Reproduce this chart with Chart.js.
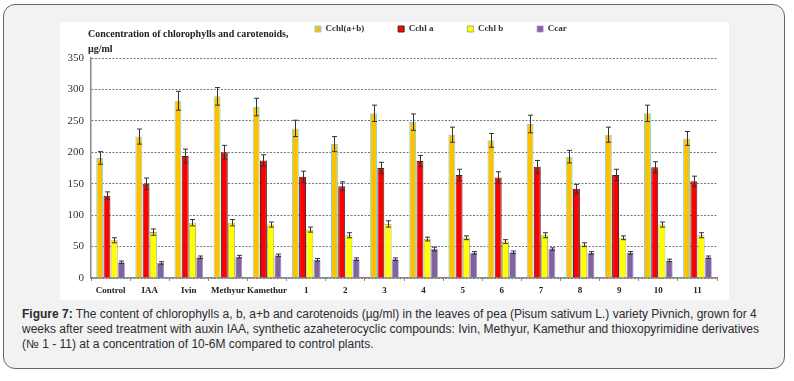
<!DOCTYPE html>
<html>
<head>
<meta charset="utf-8">
<script src="https://cdn.jsdelivr.net/npm/chart.js@4/dist/chart.umd.min.js"></script>
<style>
  html, body { margin:0; padding:0; background:#ffffff; }
  body { width:794px; height:381px; position:relative; overflow:hidden; }
  .box { position:absolute; left:3px; top:4px; width:780px; height:363px; border:1.5px solid #666; border-radius:12px; background:#f2f2f2; }
  .panel { position:absolute; left:60px; top:22px; width:669px; height:278px; background:#fff; }
  .panel canvas { position:absolute; left:0; top:0; }
  .ctitle { position:absolute; left:88px; top:26px; font:bold 10px "Liberation Serif","DejaVu Serif",serif; color:#222; line-height:15px; }
  .caption { position:absolute; left:22px; top:307px; width:750px; font:12px "Liberation Sans",Arial,sans-serif; color:#2b2b33; line-height:15px; }
</style>
</head>
<body>
<div class="box"></div>
<div class="panel"><canvas id="c" width="669" height="278"></canvas></div>
<div class="ctitle">Concentration of chlorophylls and carotenoids,<br>µg/ml</div>
<div class="caption"><b>Figure 7:</b> The content of chlorophylls a, b, a+b and carotenoids (µg/ml) in the leaves of pea (Pisum sativum L.) variety Pivnich, grown for 4 weeks after seed treatment with auxin IAA, synthetic azaheterocyclic compounds: Ivin, Methyur, Kamethur and thioxopyrimidine derivatives (№ 1 - 11) at a concentration of 10-6M compared to control plants.</div>
<script>
const categories = ["Control","IAA","Ivin","Methyur","Kamethur","1","2","3","4","5","6","7","8","9","10","11"];
const chlAB = [191,225,282,289,272,238,213,262,248,228,219,245,193,228,262,222];
const chlA  = [131,150,194,200,187,161,146,175,186,164,160,177,142,164,176,154];
const chlB  = [60,73,88,88,85,77,68,86,62,64,58,68,53,64,85,68];
const car   = [25,24,33,34,36,29,30,30,46,40,41,46,40,40,28,33];
const errAB = [10,12,15,14,14,13,12,13,13,12,11,14,10,12,13,11];
const errA  = [6,9,11,11,9,9,7,9,9,9,9,10,7,9,9,8];
const errB  = [4,5,5,5,4,4,4,5,3,3,3,4,3,3,4,4];
const errCar= [2,2,2,2,2,2,2,2,3,2,2,2,2,2,2,2];
const seriesNames = ["Cchl(a+b)","Cchl a","Cchl b","Ccar"];
const yTicks = [0,50,100,150,200,250,300,350];

const errorBars = {
  id:'errorBars',
  afterDatasetsDraw(chart){
    const ctx = chart.ctx, y = chart.scales.y;
    chart.data.datasets.forEach((ds,di)=>{
      const meta = chart.getDatasetMeta(di);
      meta.data.forEach((el,i)=>{
        const v = ds.data[i], e = ds.errors[i];
        const yt = y.getPixelForValue(v+e), yb = y.getPixelForValue(v-e);
        const x = Math.round(el.x)+0.5;
        ctx.save();
        ctx.strokeStyle = '#333'; ctx.lineWidth = 1;
        ctx.beginPath();
        ctx.moveTo(x, yt); ctx.lineTo(x, yb);
        ctx.moveTo(x-2.5, yt); ctx.lineTo(x+2.5, yt);
        ctx.moveTo(x-2.5, yb); ctx.lineTo(x+2.5, yb);
        ctx.stroke();
        ctx.restore();
      });
    });
  }
};

const legendShift = {
  id:'legendShift',
  afterLayout(chart){
    const lg = chart.legend;
    const pad = lg.options.labels.padding;
    const targetX = 255, targetY = 7;
    const dx = targetX - (lg.left + pad);
    const dy = targetY - (lg.top + pad + 4.5);
    lg.left += dx; lg.right += dx;
    lg.top += dy;
  }
};

new Chart(document.getElementById('c'), {
  type:'bar',
  data:{
    labels:categories,
    datasets:[
      {label:seriesNames[0], data:chlAB, errors:errAB, backgroundColor:'#FFC000', borderColor:'#7DD4E6', borderWidth:1},
      {label:seriesNames[1], data:chlA, errors:errA, backgroundColor:'#FF0000', borderColor:'#3a2a2a', borderWidth:1},
      {label:seriesNames[2], data:chlB, errors:errB, backgroundColor:'#FFFF00', borderColor:'#9a9a60', borderWidth:0.8},
      {label:seriesNames[3], data:car, errors:errCar, backgroundColor:'#8064A2', borderColor:'#a48fc0', borderWidth:0.8}
    ]
  },
  options:{
    responsive:false,
    animation:false,
    layout:{padding:{left:0,right:12,top:0,bottom:0}},
    datasets:{bar:{categoryPercentage:0.74, barPercentage:0.96}},
    plugins:{
      title:{display:false},
      tooltip:{enabled:false},
      legend:{
        display:true, position:'top', align:'start', maxHeight:36,
        labels:{boxWidth:6, boxHeight:6, padding:34, color:'#333',
          font:{family:'"Liberation Serif","DejaVu Serif",serif', size:9, weight:'bold'}}
      }
    },
    scales:{
      x:{
        offset:true,
        afterFit(s){ s.height = 22; },
        grid:{drawOnChartArea:false, drawTicks:true, tickLength:3, tickColor:'#888', offset:true},
        border:{display:true, color:'#888', width:1.5},
        ticks:{padding:4, color:'#222', maxRotation:0, minRotation:0, autoSkip:false,
          font:{family:'"Liberation Serif","DejaVu Serif",serif', size:9, weight:'bold'}}
      },
      y:{
        min:0, max:350,
        afterFit(s){ s.width = 31; },
        afterBuildTicks(s){ s.ticks = yTicks.map(v=>({value:v})); },
        grid:{color:'#777', lineWidth:1, drawTicks:false},
        border:{display:true, color:'#888', width:1.5, dash:[2,1.5]},
        ticks:{padding:7, color:'#333', font:{family:'"Liberation Serif","DejaVu Serif",serif', size:11}}
      }
    }
  },
  plugins:[errorBars, legendShift]
});
</script>
</body>
</html>
